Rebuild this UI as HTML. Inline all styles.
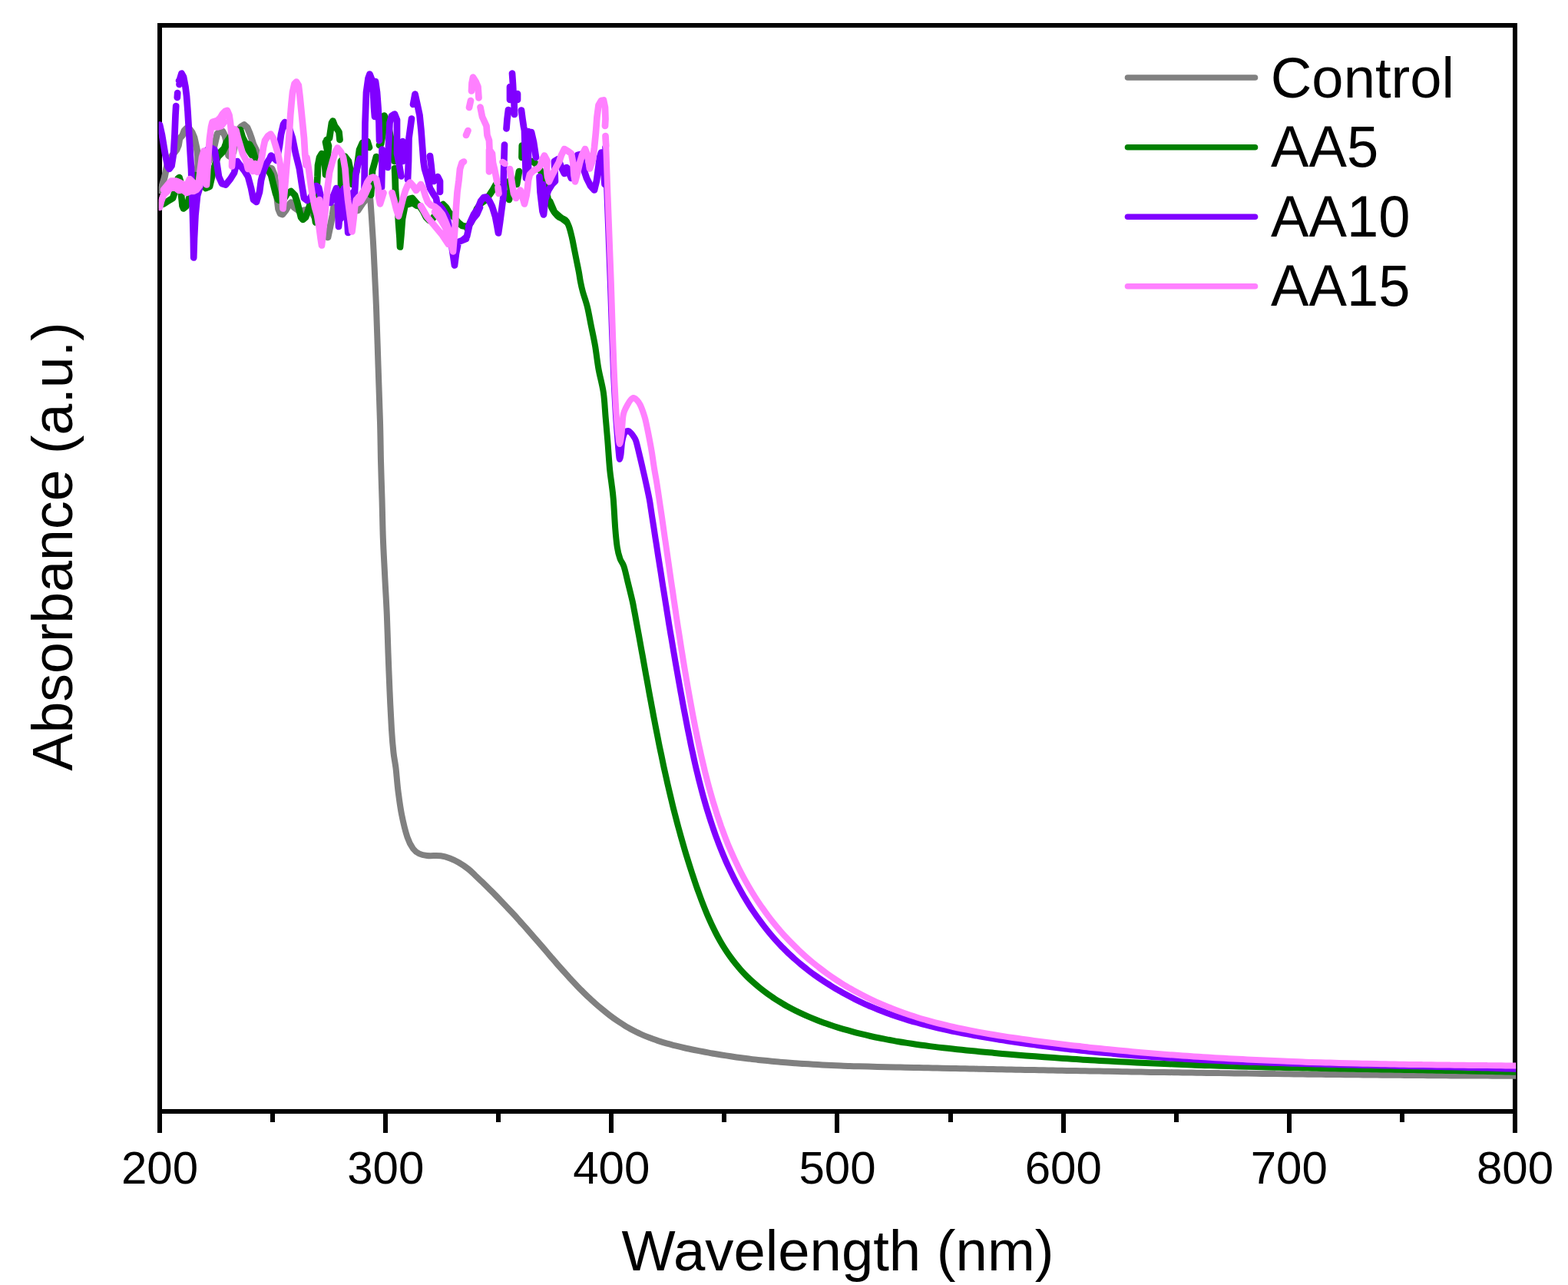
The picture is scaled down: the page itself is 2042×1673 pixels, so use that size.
<!DOCTYPE html>
<html lang="en">
<head>
<meta charset="utf-8">
<title>UV-vis absorbance spectra</title>
<style>
html,body{margin:0;padding:0;background:#fff;}
body{width:2042px;height:1673px;overflow:hidden;position:relative;}
svg{display:block;position:absolute;left:0;top:0;}
text{font-family:"Liberation Sans",Arial,Helvetica,sans-serif;fill:#000;}
.tick{font-size:60px;text-anchor:middle;}
.lab{font-size:74px;}
.leg{font-size:74.2px;}
.curve{fill:none;stroke-width:8.0;stroke-linejoin:round;stroke-linecap:round;}
.ax{stroke:#000;stroke-width:6;fill:none;shape-rendering:crispEdges;}
</style>
</head>
<body>
<svg width="2042" height="1673" viewBox="0 0 2042 1673">
<rect x="0" y="0" width="2042" height="1673" fill="#ffffff"/>
<g class="ax">
<rect x="208" y="33" width="1765" height="1414"/>
<line x1="208" y1="1447" x2="208" y2="1475"/>
<line x1="355" y1="1447" x2="355" y2="1461"/>
<line x1="502" y1="1447" x2="502" y2="1475"/>
<line x1="649" y1="1447" x2="649" y2="1461"/>
<line x1="796" y1="1447" x2="796" y2="1475"/>
<line x1="943" y1="1447" x2="943" y2="1461"/>
<line x1="1090" y1="1447" x2="1090" y2="1475"/>
<line x1="1238" y1="1447" x2="1238" y2="1461"/>
<line x1="1385" y1="1447" x2="1385" y2="1475"/>
<line x1="1532" y1="1447" x2="1532" y2="1461"/>
<line x1="1679" y1="1447" x2="1679" y2="1475"/>
<line x1="1826" y1="1447" x2="1826" y2="1461"/>
<line x1="1973" y1="1447" x2="1973" y2="1475"/>
</g>
<clipPath id="plotclip"><rect x="206.6" y="36" width="1767.6" height="1408"/></clipPath>
<g clip-path="url(#plotclip)">
<path class="curve" stroke="#808080" style="stroke-width:8.7" d="M208,248 210.5,244 212.5,237 214.5,230 216.5,220 218.5,212 220.5,208 226,200 230,195 232.5,189 234,180 237.5,176.5 240,170 243,167 247,168 250,172 253,179 255,188 256.5,195 257.5,203 257.8,213 257,222 257.5,228 259,227 265,220 272,210 278,195 281,182 283,174 286,171.5 290,171 293,177 295,185 296.5,195 297.5,202.5 300,204 304,198 307,180 309.5,170 314,165 318,162.5 322,166 325,173 327.5,180 330,188 333,194 335,200 337,206 340,213 348,218 354,219.5 357.5,228 359.5,240 360.8,258 362.5,272 365,278 368,279 372,274 376,267 379,263.5 383,270 390,275 400,273 404,273M404,273 414,290 422,305 427,309 430,295 433,280 434.5,270 439,270 449,275 459,275 466,274 472,265 478,258 481.5,254.5"/>
<path class="curve" stroke="#808080" d="M481.5,254C481.7,255.3 481.9,254.3 482.5,262C483.1,269.7 484.3,289.5 485,300C485.7,310.5 485.9,313.8 486.5,325C487.1,336.2 487.9,354.5 488.5,367C489.1,379.5 489.3,382 490,400C490.7,418 491.7,450 492.5,475C493.3,500 494.4,529.2 495,550C495.6,570.8 495.6,583.3 496,600C496.4,616.7 497,633.3 497.5,650C498,666.7 498.2,683.3 498.8,700C499.4,716.7 500.4,733.3 501.2,750C502,766.7 503.1,783.3 503.8,800C504.5,816.7 504.9,833.3 505.5,850C506.1,866.7 506.8,883.3 507.5,900C508.2,916.7 509.2,936.7 510,950C510.8,963.3 511.6,971.7 512.5,980C513.4,988.3 514.5,991.7 515.5,1000C516.5,1008.3 517.2,1020 518.5,1030C519.8,1040 521,1050 523,1060C525,1070 528,1082.5 530.5,1090C533,1097.5 535.4,1101.4 538,1105C540.6,1108.6 543,1110 546,1111.5C549,1113 551.3,1113.5 556,1114C560.7,1114.5 569,1113.7 574,1114.3C579,1114.9 582.1,1116 586,1117.5C589.9,1119 593.5,1120.7 597.5,1123C601.5,1125.3 606.4,1128.7 610,1131.5C613.6,1134.3 616,1137 619,1139.8C622,1142.6 624.9,1145.4 627.8,1148.2C630.7,1151 633.5,1153.8 636.4,1156.6C639.2,1159.4 642.1,1162.2 644.9,1165.1C647.7,1167.9 650.4,1170.8 653.2,1173.7C656,1176.6 658.8,1179.5 661.5,1182.4C664.2,1185.3 666.9,1188.2 669.6,1191.1C672.3,1194 674.9,1197 677.6,1200C680.3,1203 683,1205.9 685.6,1208.9C688.2,1211.9 690.8,1214.8 693.4,1217.8C696,1220.8 698.7,1223.8 701.3,1226.8C703.9,1229.8 706.5,1232.9 709.1,1235.9C711.7,1239 714.3,1242 716.9,1245.1C719.5,1248.1 722.1,1251.2 724.8,1254.2C727.4,1257.2 730.1,1260.2 732.8,1263.2C735.5,1266.2 738.1,1269.2 740.8,1272.2C743.5,1275.2 746.3,1278.1 749.1,1281C751.9,1283.9 754.6,1286.8 757.5,1289.7C760.4,1292.6 763.2,1295.4 766.2,1298.2C769.2,1301 772.2,1303.7 775.2,1306.4C778.2,1309.1 781.3,1311.7 784.4,1314.2C787.5,1316.8 790.6,1319.3 793.8,1321.7C797,1324.1 800.3,1326.5 803.6,1328.8C806.9,1331.1 810.3,1333.2 813.7,1335.3C817.1,1337.4 820.6,1339.3 824.1,1341.2C827.6,1343.1 831.2,1344.8 834.8,1346.5C838.4,1348.2 842.2,1349.7 845.9,1351.1C849.6,1352.5 853.4,1353.8 857.2,1355.1C861,1356.3 864.9,1357.5 868.8,1358.6C872.7,1359.7 876.6,1360.7 880.5,1361.7C884.4,1362.7 888.3,1363.6 892.3,1364.5C896.2,1365.4 900.2,1366.2 904.2,1367C908.2,1367.8 912,1368.5 916,1369.3C920,1370 923.9,1370.8 927.9,1371.5C931.9,1372.2 935.8,1372.9 939.8,1373.5C943.8,1374.1 947.6,1374.7 951.6,1375.3C955.6,1375.9 959.5,1376.5 963.5,1377C967.5,1377.5 971.4,1378 975.4,1378.5C979.4,1379 983.3,1379.5 987.3,1379.9C991.3,1380.3 995.2,1380.7 999.2,1381.1C1003.2,1381.5 1007.1,1381.9 1011.1,1382.3C1015.1,1382.7 1019.1,1383 1023.1,1383.3C1027.1,1383.6 1031,1383.9 1035,1384.2C1039,1384.5 1042.9,1384.8 1046.9,1385C1050.9,1385.2 1054.9,1385.5 1058.9,1385.7C1062.9,1385.9 1066.8,1386.2 1070.8,1386.4C1074.8,1386.6 1078.8,1386.7 1082.8,1386.9C1086.8,1387.1 1090.7,1387.2 1094.7,1387.4C1098.7,1387.6 1102.7,1387.8 1106.7,1387.9C1110.7,1388.1 1114.7,1388.2 1118.7,1388.3C1122.7,1388.4 1126.7,1388.5 1130.7,1388.6C1134.7,1388.7 1138.6,1388.8 1142.6,1388.9C1146.6,1389 1150.6,1389.1 1154.6,1389.2C1158.6,1389.3 1162.6,1389.4 1166.6,1389.5C1170.6,1389.6 1174.6,1389.6 1178.6,1389.7C1182.6,1389.8 1186.6,1389.9 1190.6,1390C1194.6,1390.1 1198.6,1390.1 1202.6,1390.2C1206.6,1390.3 1210.7,1390.4 1214.7,1390.5C1218.7,1390.6 1222.7,1390.6 1226.7,1390.7C1230.7,1390.8 1234.7,1390.9 1238.7,1391C1242.7,1391.1 1246.7,1391.1 1250.7,1391.2C1254.7,1391.3 1258.8,1391.4 1262.8,1391.5C1266.8,1391.6 1270.8,1391.6 1274.8,1391.7C1278.8,1391.8 1282.8,1391.8 1286.8,1391.9C1290.8,1392 1294.9,1392.1 1298.9,1392.2C1302.9,1392.3 1306.9,1392.3 1310.9,1392.4C1314.9,1392.5 1319,1392.6 1323,1392.7C1327,1392.8 1331,1392.8 1335,1392.9C1339,1393 1343.1,1393 1347.1,1393.1C1351.1,1393.2 1355.1,1393.2 1359.1,1393.3C1363.1,1393.4 1367.2,1393.5 1371.2,1393.6C1375.2,1393.7 1379.2,1393.7 1383.2,1393.8C1387.2,1393.9 1391.3,1393.9 1395.3,1394C1399.3,1394.1 1403.4,1394.1 1407.4,1394.2C1411.4,1394.3 1415.4,1394.3 1419.4,1394.4C1423.4,1394.5 1427.5,1394.5 1431.5,1394.6C1435.5,1394.7 1439.6,1394.7 1443.6,1394.8C1447.6,1394.9 1451.6,1395 1455.6,1395.1C1459.6,1395.2 1463.7,1395.2 1467.7,1395.3C1471.7,1395.4 1475.8,1395.4 1479.8,1395.5C1483.8,1395.6 1487.8,1395.6 1491.8,1395.7C1495.8,1395.8 1499.9,1395.9 1503.9,1395.9C1507.9,1396 1512,1396 1516,1396C1520,1396 1524.1,1396.1 1528.1,1396.2C1532.1,1396.3 1536.1,1396.3 1540.1,1396.4C1544.1,1396.5 1548.2,1396.5 1552.2,1396.6C1556.2,1396.7 1560.3,1396.7 1564.3,1396.8C1568.3,1396.9 1572.3,1397 1576.3,1397C1580.3,1397 1584.4,1397 1588.4,1397.1C1592.4,1397.1 1596.5,1397.2 1600.5,1397.3C1604.5,1397.4 1608.5,1397.5 1612.5,1397.5C1616.5,1397.5 1620.6,1397.5 1624.6,1397.6C1628.6,1397.6 1632.7,1397.7 1636.7,1397.8C1640.7,1397.9 1644.7,1398 1648.7,1398C1652.7,1398 1656.8,1398 1660.8,1398.1C1664.8,1398.1 1668.8,1398.2 1672.8,1398.3C1676.8,1398.3 1680.9,1398.4 1684.9,1398.4C1688.9,1398.5 1692.9,1398.5 1696.9,1398.6C1700.9,1398.6 1705,1398.7 1709,1398.7C1713,1398.7 1717,1398.8 1721,1398.8C1725,1398.8 1729.1,1399 1733.1,1399C1737.1,1399 1741.1,1399.1 1745.1,1399.1C1749.1,1399.1 1753.1,1399.2 1757.1,1399.2C1761.1,1399.2 1765.2,1399.2 1769.2,1399.3C1773.2,1399.3 1777.2,1399.5 1781.2,1399.5C1785.2,1399.5 1789.2,1399.6 1793.2,1399.6C1797.2,1399.6 1801.3,1399.7 1805.3,1399.7C1809.3,1399.7 1813.3,1399.8 1817.3,1399.8C1821.3,1399.8 1825.3,1399.9 1829.3,1399.9C1833.3,1399.9 1837.3,1400 1841.3,1400C1845.3,1400 1849.3,1400.1 1853.3,1400.1C1857.3,1400.1 1861.3,1400.2 1865.3,1400.2C1869.3,1400.2 1873.3,1400.3 1877.3,1400.3C1881.3,1400.3 1885.3,1400.4 1889.3,1400.4C1893.3,1400.4 1897.2,1400.4 1901.2,1400.4C1905.2,1400.4 1909.2,1400.5 1913.2,1400.5C1917.2,1400.5 1921.2,1400.6 1925.2,1400.6C1929.2,1400.6 1933.1,1400.6 1937.1,1400.6C1941.1,1400.6 1945.1,1400.7 1949.1,1400.7C1953.1,1400.7 1957.1,1400.7 1961.1,1400.7C1965.1,1400.7 1969.8,1400.8 1973,1400.8C1976.2,1400.8 1978.8,1400.8 1980,1400.8"/>
<path class="curve" stroke="#008000" style="stroke-width:8.7" d="M208,267 214,265 220,261 225,258 228,249 230,238 232,232 233.5,231 235,236 236.2,255 237.5,268 239,271.5 242,269 245,263 248,250 252,235 254.5,228 260,236 268,245 273,243 276,230 279,218 283,206 287,198 292,193 294.5,186 300,178 306,172 313,169 316,179 320,187 325,188 329,195 332,205 335,213 340,218 345,220 349,221 353,228 356,240 359,252 362,260 368,262 374,252 379,249 384,254 387,263 390,275 392,283 394.5,286 398,283 401,275 404,265M312,175 316,186 322,193 328,202M285,203 290,198 294,190M404,265 407,265 409,275 411,289.5 413,270 412.5,245 413.5,230 414,215 416,205 419,200 421.5,205 423.5,220 424,227.5 425,215 427,200 428,190 425.5,182 429,180 430.5,170 432,160 433.5,157.5 436,164 439,168 441.5,172 442.5,182M444,280 444,250 444,210 449,203.5 454,210 457,225 458.5,240M464,225 466,210 468,195 472,186 478.5,184 481,192M483,254 484,240 485,222 487,215 490,204M494,189 496,188 498.5,175 499.5,160 500.5,150.5 503,156 505,160 509,180 511.5,190 513,205 513.5,210M514,219 514.5,230 515,247.2 516,260 518,270 519,290 520.5,310 521,321.5 522.5,305 524,285 527,270 530,262 533,259 537,258 543,265 547,269 551,275 555,283 559,287 563,285 567,280 574,268 577,266 581,270 585,277 589,280 597,290 602,294 608,295M531,266 537,264 543,268M424,185 426,195 427,205 426,220 424.5,227M608,297 613,290 618,280 621,272 626,265 633,260 638,253 642,247 646,240 651,240 655,247 660,256 663,260 665,250 664,235 668,240 673,240 676,223M679.5,205 679.8,189.5M693,210 697.5,213 702,218 705.5,225.5 709,240 713,256M716,262 722,276 730,283 738,289"/>
<path class="curve" stroke="#008000" d="M713,256C713.8,258.3 716.3,266.3 718,270C719.7,273.7 721.3,275.8 723,278C724.7,280.2 725.8,281.7 728,283C730.2,284.3 733.8,284 736,286C738.2,288 739.5,291 741,295C742.5,299 743.8,305 745,310C746.2,315 747,320 748,325C749,330 750,335 751,340C752,345 753.2,350.5 754,355C754.8,359.5 755.2,362.8 756,367C756.8,371.2 757.5,374.5 759,380C760.5,385.5 763.2,392.5 765,400C766.8,407.5 768.3,416.7 770,425C771.7,433.3 773.4,440.8 775,450C776.6,459.2 777.6,469.8 779.4,480C781.2,490.2 784.4,500.9 785.9,511.3C787.4,521.8 787.7,532.2 788.6,542.7C789.5,553.2 790.4,562.6 791.3,574C792.2,585.4 793.2,601.7 794.1,611C795,620.3 795.7,623.5 796.5,630C797.3,636.5 798,640.4 798.8,650C799.6,659.6 800.4,677.1 801.2,687.5C802,697.9 802.8,705.8 803.8,712.5C804.8,719.2 806,723.3 807.5,727.5C809,731.7 810.8,732.5 812.5,737.5C814.2,742.5 815.6,749.9 817.5,757.5C819.4,765.1 822.3,776.8 823.7,783C825.1,789.2 825.2,790.9 826,794.9C826.8,798.9 827.5,802.8 828.2,806.8C828.9,810.8 829.7,814.7 830.4,818.7C831.1,822.7 831.9,826.7 832.6,830.6C833.3,834.5 834,838.5 834.7,842.4C835.4,846.3 836.2,850.3 836.9,854.3C837.6,858.2 838.3,862.2 839,866.1C839.7,870 840.4,874 841.1,877.9C841.8,881.8 842.6,885.9 843.3,889.8C844,893.7 844.7,897.6 845.4,901.5C846.1,905.4 846.9,909.4 847.6,913.3C848.3,917.2 849.1,921.2 849.8,925.1C850.5,929 851.2,932.9 852,936.8C852.8,940.7 853.5,944.7 854.3,948.6C855.1,952.5 855.8,956.4 856.6,960.3C857.4,964.2 858.1,968.1 858.9,972C859.7,975.9 860.6,979.8 861.4,983.7C862.2,987.6 863,991.5 863.8,995.4C864.6,999.3 865.5,1003.2 866.4,1007.1C867.3,1011 868.1,1014.9 869,1018.8C869.9,1022.7 870.8,1026.5 871.7,1030.4C872.6,1034.3 873.6,1038.2 874.5,1042.1C875.4,1046 876.3,1049.8 877.3,1053.7C878.3,1057.6 879.3,1061.4 880.3,1065.3C881.3,1069.2 882.3,1073.1 883.4,1077C884.5,1080.9 885.5,1084.7 886.6,1088.6C887.7,1092.5 888.8,1096.3 889.9,1100.2C891,1104.1 892.1,1107.9 893.3,1111.7C894.5,1115.5 895.7,1119.4 896.9,1123.3C898.1,1127.2 899.4,1131.1 900.6,1134.9C901.9,1138.8 903.1,1142.6 904.4,1146.4C905.7,1150.2 907,1154.2 908.4,1158C909.8,1161.8 911.2,1165.7 912.6,1169.5C914,1173.3 915.5,1177.1 917,1180.9C918.5,1184.7 920,1188.5 921.6,1192.2C923.2,1195.9 924.9,1199.6 926.6,1203.2C928.3,1206.8 930.1,1210.5 931.9,1214.1C933.7,1217.7 935.6,1221.2 937.6,1224.7C939.6,1228.2 941.6,1231.6 943.7,1234.9C945.8,1238.2 948,1241.5 950.3,1244.7C952.6,1247.9 954.9,1251 957.4,1254.1C959.9,1257.2 962.4,1260.2 965,1263.1C967.6,1266 970.3,1268.8 973.1,1271.6C975.9,1274.3 978.8,1277 981.7,1279.6C984.6,1282.2 987.6,1284.8 990.7,1287.2C993.8,1289.7 996.9,1292 1000.1,1294.3C1003.3,1296.6 1006.6,1298.8 1009.9,1301C1013.2,1303.2 1016.7,1305.2 1020.1,1307.2C1023.5,1309.2 1027,1311.1 1030.5,1313C1034,1314.9 1037.7,1316.7 1041.3,1318.4C1044.9,1320.1 1048.6,1321.8 1052.3,1323.4C1056,1325 1059.7,1326.5 1063.5,1328C1067.3,1329.5 1071.2,1330.9 1075,1332.3C1078.8,1333.7 1082.6,1335 1086.5,1336.2C1090.4,1337.5 1094.3,1338.7 1098.2,1339.8C1102.1,1340.9 1106.1,1342 1110,1343.1C1113.9,1344.2 1117.8,1345.2 1121.8,1346.2C1125.8,1347.2 1129.7,1348.1 1133.7,1349C1137.7,1349.9 1141.6,1350.7 1145.6,1351.5C1149.5,1352.3 1153.5,1353 1157.4,1353.8C1161.4,1354.5 1165.3,1355.3 1169.3,1356C1173.3,1356.7 1177.2,1357.3 1181.2,1357.9C1185.2,1358.5 1189,1359.1 1193,1359.7C1197,1360.3 1200.9,1360.8 1204.9,1361.3C1208.9,1361.8 1212.8,1362.4 1216.8,1362.9C1220.8,1363.4 1224.7,1363.8 1228.7,1364.3C1232.7,1364.8 1236.6,1365.2 1240.6,1365.6C1244.6,1366 1248.5,1366.4 1252.5,1366.8C1256.5,1367.2 1260.4,1367.6 1264.4,1368C1268.4,1368.4 1272.3,1368.8 1276.3,1369.2C1280.3,1369.6 1284.2,1369.9 1288.2,1370.3C1292.2,1370.7 1296.2,1371.1 1300.2,1371.4C1304.2,1371.8 1308.1,1372.1 1312.1,1372.4C1316.1,1372.7 1320.1,1373.1 1324.1,1373.4C1328.1,1373.7 1332,1374.1 1336,1374.4C1340,1374.7 1344,1375 1348,1375.3C1352,1375.6 1355.9,1375.9 1359.9,1376.2C1363.9,1376.5 1367.9,1376.8 1371.9,1377.1C1375.9,1377.4 1379.9,1377.6 1383.9,1377.9C1387.9,1378.2 1391.9,1378.4 1395.9,1378.7C1399.9,1379 1403.9,1379.2 1407.9,1379.5C1411.9,1379.8 1415.9,1380 1419.9,1380.2C1423.9,1380.4 1427.9,1380.7 1431.9,1380.9C1435.9,1381.1 1439.9,1381.4 1443.9,1381.6C1447.9,1381.8 1451.9,1382 1455.9,1382.2C1459.9,1382.4 1463.9,1382.6 1467.9,1382.8C1471.9,1383 1475.9,1383.2 1479.9,1383.4C1483.9,1383.6 1487.9,1383.8 1491.9,1384C1495.9,1384.2 1499.9,1384.3 1503.9,1384.5C1507.9,1384.7 1512,1384.8 1516,1385C1520,1385.2 1524,1385.3 1528,1385.5C1532,1385.7 1536,1385.8 1540,1386C1544,1386.2 1548.1,1386.2 1552.1,1386.4C1556.1,1386.6 1560.1,1386.8 1564.1,1386.9C1568.1,1387.1 1572.1,1387.2 1576.1,1387.3C1580.1,1387.4 1584.2,1387.6 1588.2,1387.7C1592.2,1387.8 1596.2,1387.9 1600.2,1388C1604.2,1388.1 1608.3,1388.3 1612.3,1388.4C1616.3,1388.5 1620.3,1388.6 1624.3,1388.7C1628.3,1388.8 1632.3,1388.9 1636.3,1389C1640.3,1389.1 1644.4,1389.3 1648.4,1389.4C1652.4,1389.5 1656.4,1389.6 1660.4,1389.7C1664.4,1389.8 1668.5,1389.8 1672.5,1389.9C1676.5,1390 1680.5,1390.1 1684.5,1390.2C1688.5,1390.3 1692.6,1390.4 1696.6,1390.5C1700.6,1390.6 1704.6,1390.6 1708.6,1390.7C1712.6,1390.8 1716.7,1390.9 1720.7,1391C1724.7,1391.1 1728.7,1391.1 1732.7,1391.2C1736.7,1391.3 1740.8,1391.3 1744.8,1391.4C1748.8,1391.5 1752.8,1391.6 1756.8,1391.7C1760.8,1391.8 1764.8,1391.8 1768.8,1391.9C1772.8,1392 1776.9,1392 1780.9,1392.1C1784.9,1392.2 1788.9,1392.2 1792.9,1392.3C1796.9,1392.4 1800.9,1392.4 1804.9,1392.5C1808.9,1392.6 1813,1392.6 1817,1392.7C1821,1392.8 1825,1392.8 1829,1392.9C1833,1393 1837,1393 1841,1393.1C1845,1393.2 1849,1393.2 1853,1393.3C1857,1393.4 1861.1,1393.5 1865.1,1393.6C1869.1,1393.7 1873.1,1393.7 1877.1,1393.8C1881.1,1393.9 1885.1,1393.9 1889.1,1394C1893.1,1394.1 1897.1,1394.1 1901.1,1394.2C1905.1,1394.3 1909.1,1394.3 1913.1,1394.4C1917.1,1394.5 1921.1,1394.6 1925.1,1394.7C1929.1,1394.8 1933.1,1394.8 1937.1,1394.9C1941.1,1395 1945,1395.1 1949,1395.2C1953,1395.3 1957,1395.3 1961,1395.4C1965,1395.5 1969.8,1395.7 1973,1395.7C1976.2,1395.8 1978.8,1395.7 1980,1395.7"/>
<path class="curve" stroke="#8000ff" style="stroke-width:8.7" d="M208,162.5 211,176 215,200 218.5,217 220.5,220 223.5,216 226,200 227.5,175 228.5,150 229.2,138M230.8,127 231.2,121M233.5,110 234.5,102 236.5,95.5 239,100 241.5,113 243,125 244.5,145 246,170 247.5,195 249,220 250,250 251,280 251.8,310 252.2,335.5 253,310 254.5,280 255.5,270 257,255 260,245 262.5,235 267,220 270,195 274,192 279.5,195 282,210 285,230 289,239 294,240.5 300,233 305,225 308,213 309,210 311,213 318,222 323,230 327,245 330,260 334,263 338,250 340,235 343,223 347,213 351,207 353,202.5 357,206 360,209 362,200 364,190 366,175 369,162 371,159 376,165 381,180 385,200 390,220 393,240 396,258 400,261M233,105 240,105M400,261 404,258 408,250 412,242 415,244 417.5,255 424,260 430.5,264 434,255 438,245 439.5,260 440.5,280 441,295 442.5,280 444,260 446,250 448,245 449.5,260 451,275 452.5,290 453.2,303 454.5,285 457,265 460,250M462,250 463.5,226 466.5,212 468.5,206.5M474.5,245 474.8,220 475,200 475.5,160 477,120 479.5,102 481.5,96.5 484,103 486,120 487,140 488,152M489,106 491,120 492.5,140 493.5,160 494,183M497.5,194.5 497.5,220 497,244M505,218 505.5,200 506.5,180 507.5,160 510,151 514,148.5 517,156 517,180 517,200 520,215 522.5,229.5M524.5,184 524.5,210M531,234 532,210 532.5,180 536,154.5M538,136 540.5,122.5 543.5,136 546.5,150 548.5,170 550,190 551.5,210 553,220 556,230 560,245 564,252 568,258 569,264 576,272 582,282 586,300 589,325 592,345.5 594,330 597,315 602,313 607,311M560,203 561.5,215 563,230 565,236 570,230 573,236 573,250M443,250 443.5,285M602,313 608,308 612,290 617,279 622,272 626,262 630,257 633,256.5 637,261 641,269 645,282 647.5,295 649,303.5 651,290 653,275 655,260 656,250 655.8,233.5M657,188.5 656.5,205 655.8,233.5M667,95.5 668,110 668.5,120 669.5,132 670,149M664,113 664,130M674,122 674,130M662,143 660.5,155 659.5,167.5M679,143.5 680.5,155 682,165 683,170 684,205 685,232M688,171 688,220M692,172 695,185 698,205M702.5,230 703.5,250 706.5,275 708,279.5 710,260 714,248 719,240 723,236 722,210 727,207 732,220 735,226 738,218 741,225 744,232 748,210 752,202 756,201 760,220 764,232 769,242 774,247.5 777,235 779,220 781,205 783,198.5 785,210 786.5,225 787.5,240M707,240 707.5,260M610,295 616,285 621,279 625,270"/>
<path class="curve" stroke="#8000ff" d="M788.2,192C788.3,193.3 788.3,192 788.6,200C788.9,208 789.5,226.7 790,240C790.5,253.3 791,266.7 791.5,280C792,293.3 792.5,305.5 793,320C793.5,334.5 794.2,350.3 794.8,367C795.4,383.7 795.9,401.2 796.6,420C797.3,438.8 798.2,464.8 798.8,480C799.4,495.2 799.8,500.5 800.3,511C800.8,521.5 801.4,532.3 802.1,543C802.8,553.7 803.9,566.8 804.5,575C805.1,583.2 805.6,588.2 806,592C806.4,595.8 806.6,598 807,598C807.4,598 808,595.8 808.5,592C809,588.2 809.5,579.3 810.2,575C810.9,570.7 811.7,568.2 812.5,566C813.3,563.8 814.1,562.8 815,562C815.9,561.2 816.9,560.8 818,561C819.1,561.2 820.3,562.3 821.5,563.5C822.7,564.7 823.9,566.2 825,568C826.1,569.8 827,570.4 828.2,574C829.4,577.6 830.7,583.5 832.2,589.7C833.7,595.9 835.7,604.3 837.2,611C838.8,617.7 840.1,623.5 841.5,630C842.9,636.5 844.7,644.7 845.7,650C846.7,655.3 847,658 847.6,662C848.2,666 848.8,670 849.4,674C850,678 850.7,682 851.3,686C851.9,690 852.5,693.9 853.1,697.9C853.7,701.9 854.4,705.8 855,709.8C855.6,713.8 856.2,717.7 856.8,721.7C857.4,725.7 858.1,729.6 858.7,733.6C859.3,737.6 860,741.5 860.6,745.5C861.2,749.5 861.8,753.4 862.4,757.4C863,761.4 863.7,765.3 864.3,769.2C864.9,773.1 865.6,777 866.2,781C866.8,785 867.5,788.9 868.1,792.9C868.7,796.9 869.4,800.8 870,804.7C870.6,808.6 871.2,812.6 871.9,816.5C872.5,820.4 873.2,824.3 873.9,828.3C874.6,832.2 875.2,836.2 875.9,840.2C876.6,844.2 877.2,848.1 877.9,852C878.6,855.9 879.2,859.9 879.9,863.8C880.6,867.7 881.3,871.6 882,875.6C882.7,879.6 883.4,883.5 884.1,887.5C884.8,891.5 885.5,895.3 886.2,899.3C886.9,903.2 887.7,907.2 888.4,911.2C889.1,915.2 889.9,919.1 890.6,923.1C891.4,927.1 892.1,931 892.9,935C893.7,939 894.4,942.9 895.2,946.9C896,950.9 896.8,954.8 897.6,958.8C898.4,962.8 899.2,966.7 900,970.7C900.8,974.7 901.7,978.6 902.6,982.6C903.5,986.6 904.3,990.5 905.2,994.5C906.1,998.5 907,1002.4 908,1006.3C909,1010.2 909.9,1014.2 910.9,1018.1C911.9,1022 913,1026 914,1029.9C915,1033.8 916.1,1037.7 917.2,1041.6C918.3,1045.5 919.4,1049.4 920.6,1053.3C921.8,1057.2 923,1061 924.2,1064.8C925.4,1068.6 926.7,1072.5 928,1076.3C929.3,1080.1 930.6,1084 932,1087.8C933.4,1091.6 934.8,1095.3 936.2,1099.1C937.7,1102.8 939.2,1106.6 940.7,1110.3C942.2,1114 943.8,1117.7 945.4,1121.4C947,1125.1 948.8,1128.8 950.5,1132.4C952.2,1136 954,1139.6 955.8,1143.2C957.6,1146.8 959.5,1150.4 961.4,1153.9C963.3,1157.5 965.3,1161 967.3,1164.5C969.3,1168 971.4,1171.4 973.5,1174.8C975.6,1178.2 977.7,1181.6 979.9,1184.9C982.1,1188.2 984.5,1191.5 986.8,1194.8C989.1,1198 991.5,1201.2 993.9,1204.4C996.3,1207.6 998.8,1210.7 1001.3,1213.8C1003.8,1216.9 1006.5,1219.9 1009.1,1222.9C1011.8,1225.9 1014.5,1228.8 1017.2,1231.6C1020,1234.4 1022.7,1237.2 1025.6,1240C1028.5,1242.8 1031.4,1245.4 1034.4,1248.1C1037.4,1250.8 1040.4,1253.4 1043.4,1255.9C1046.5,1258.4 1049.6,1260.9 1052.7,1263.3C1055.8,1265.7 1059,1268.1 1062.3,1270.4C1065.5,1272.7 1068.9,1275 1072.2,1277.2C1075.5,1279.4 1078.9,1281.5 1082.3,1283.6C1085.7,1285.7 1089.1,1287.8 1092.6,1289.8C1096.1,1291.8 1099.6,1293.7 1103.1,1295.6C1106.6,1297.5 1110.1,1299.3 1113.7,1301.1C1117.3,1302.9 1120.9,1304.6 1124.6,1306.3C1128.2,1308 1131.9,1309.6 1135.6,1311.2C1139.3,1312.8 1143,1314.2 1146.8,1315.7C1150.5,1317.2 1154.3,1318.6 1158.1,1320C1161.9,1321.4 1165.7,1322.6 1169.5,1323.9C1173.3,1325.2 1177.2,1326.4 1181,1327.6C1184.8,1328.8 1188.7,1329.9 1192.6,1331C1196.5,1332.1 1200.4,1333.2 1204.3,1334.2C1208.2,1335.2 1212.1,1336.1 1216,1337.1C1219.9,1338 1224,1339 1227.9,1339.9C1231.9,1340.8 1235.8,1341.7 1239.7,1342.5C1243.7,1343.3 1247.6,1344.1 1251.6,1344.9C1255.6,1345.7 1259.6,1346.4 1263.6,1347.1C1267.6,1347.8 1271.5,1348.6 1275.5,1349.3C1279.5,1350 1283.5,1350.6 1287.5,1351.3C1291.5,1352 1295.4,1352.6 1299.4,1353.3C1303.4,1354 1307.4,1354.6 1311.4,1355.2C1315.4,1355.8 1319.4,1356.4 1323.4,1357C1327.4,1357.6 1331.4,1358.2 1335.4,1358.8C1339.4,1359.4 1343.3,1359.9 1347.3,1360.4C1351.3,1360.9 1355.3,1361.5 1359.3,1362C1363.3,1362.5 1367.3,1363.1 1371.3,1363.6C1375.3,1364.1 1379.3,1364.5 1383.3,1365C1387.3,1365.5 1391.3,1366 1395.3,1366.4C1399.3,1366.9 1403.3,1367.3 1407.3,1367.7C1411.3,1368.1 1415.2,1368.6 1419.2,1369C1423.2,1369.4 1427.2,1369.8 1431.2,1370.2C1435.2,1370.6 1439.2,1370.9 1443.2,1371.3C1447.2,1371.7 1451.2,1372.1 1455.2,1372.4C1459.2,1372.8 1463.2,1373.1 1467.2,1373.4C1471.2,1373.7 1475.2,1374.1 1479.2,1374.4C1483.2,1374.7 1487.2,1375 1491.2,1375.3C1495.2,1375.6 1499.2,1375.9 1503.2,1376.2C1507.2,1376.5 1511.2,1376.7 1515.2,1377C1519.2,1377.3 1523.2,1377.5 1527.2,1377.8C1531.2,1378.1 1535.3,1378.3 1539.3,1378.6C1543.3,1378.8 1547.3,1379.1 1551.3,1379.3C1555.3,1379.5 1559.3,1379.7 1563.3,1379.9C1567.3,1380.1 1571.3,1380.3 1575.3,1380.5C1579.3,1380.7 1583.3,1380.9 1587.3,1381.1C1591.3,1381.3 1595.3,1381.5 1599.3,1381.7C1603.3,1381.9 1607.4,1382 1611.4,1382.2C1615.4,1382.4 1619.4,1382.6 1623.4,1382.7C1627.4,1382.8 1631.4,1383 1635.4,1383.1C1639.4,1383.2 1643.4,1383.4 1647.4,1383.5C1651.4,1383.6 1655.5,1383.8 1659.5,1383.9C1663.5,1384 1667.5,1384.2 1671.5,1384.3C1675.5,1384.4 1679.5,1384.6 1683.5,1384.7C1687.5,1384.8 1691.6,1384.9 1695.6,1385C1699.6,1385.1 1703.6,1385.2 1707.6,1385.3C1711.6,1385.4 1715.7,1385.5 1719.7,1385.6C1723.7,1385.7 1727.7,1385.8 1731.7,1385.9C1735.7,1386 1739.8,1386.1 1743.8,1386.2C1747.8,1386.3 1751.8,1386.4 1755.8,1386.5C1759.8,1386.6 1763.9,1386.6 1767.9,1386.7C1771.9,1386.8 1775.9,1386.9 1779.9,1387C1783.9,1387.1 1788,1387.1 1792,1387.2C1796,1387.3 1800,1387.4 1804,1387.5C1808,1387.6 1812.1,1387.6 1816.1,1387.7C1820.1,1387.8 1824.1,1387.9 1828.1,1388C1832.1,1388.1 1836.2,1388.1 1840.2,1388.2C1844.2,1388.3 1848.3,1388.4 1852.3,1388.5C1856.3,1388.6 1860.3,1388.7 1864.3,1388.8C1868.3,1388.9 1872.4,1388.9 1876.4,1389C1880.4,1389.1 1884.5,1389.2 1888.5,1389.3C1892.5,1389.4 1896.5,1389.5 1900.5,1389.6C1904.5,1389.7 1908.6,1389.8 1912.6,1389.9C1916.6,1390 1920.7,1390.2 1924.7,1390.3C1928.7,1390.4 1932.8,1390.5 1936.8,1390.6C1940.8,1390.7 1944.8,1390.9 1948.8,1391C1952.8,1391.1 1956.9,1391.3 1960.9,1391.4C1964.9,1391.5 1969.8,1391.7 1973,1391.8C1976.2,1391.9 1978.8,1391.8 1980,1391.8"/>
<path class="curve" stroke="#ff80ff" style="stroke-width:8.7" d="M208,270 210,262 213,254 218,248 223,244 229,245 233,248 238,247 243,251 248,249 252,249 256,247 260,242 263,230 264,220M213,247 218,241 223,235.5 229,235.5 234,237.5 240,241 244,240 247,233 252,238 256,239 259,236 261,220 263,205 265.5,196.5 267,210 268.5,230 269,240.5 270,225 271.5,200 273,180 275,165 276.5,159 283,157 287,153 290,148 293,145 296,144 298.5,150 300,160 302,180 302.5,200 302,216.5 304,190 305,168 307.5,170 310,180 313,190 316,200 320,208 323,220 326,210 329,223 332,213 335,224 338,215 341,205 343,192 345,183 349,177 352.5,174.5 356,180 359,190 362,200 365,215 367,235 368,260 368.5,271.5 370.5,250 373,220 375.5,190 377,170 378.2,150 379.5,135 381,120 383.5,109 386,106.5 388.8,111 390.5,125 392,140 394,160 396,180 397.2,200 398.5,215M277,165 283,165.5 288,164 292,159M215,252 220,247 225,242 230,241 235,243 240,245 245,244 250,244 255,243M279,161 285,159 290,154 294,149M399.5,205 402,220 404,235 407,255 410,270 413,280 415.5,295 417.5,310 419,319.5 420.5,305 422.5,285 424.5,265 426.5,245 429,225 433,210 437,197 439.5,192.5 444,198 447,205 449.5,220 451,240 453,260 455,275 457,290 458.5,301.5 460.5,285 462,270 464,260 469,255 474,248 478,238 482,232 486,230.5 490,233 492.5,245 493.5,258 495,265.5 498,256 499.5,251M510.5,251 513,260 516,272 519,281.5 522,270 525,258 528,248 531,241 534,237.5 538,242 542,248 545,244 548,240 551,245 554,255 557,263 561,267 566,269 571,273 576,279 580,288 584,298 587,310 589,322 590,327.5 591.5,310 593,290 594,270 595.5,250 597.5,235 599,220 601.5,212 604,210.5M416,260 416.5,275 417.5,295M464,265 470,262 476,252 480,243M566,276 574,286 580,296 585,310M548,268 556,282 566,294 576,306 584,318M607,176 609.5,170M611,140 613,131M614,118.5 614.5,108 616,100.5 619.5,106 622.5,113 623.5,127.5M625.5,139.5 628,152 633.5,164 634.5,176 637,183 637.5,195 641,200 642,212 644,220 646,230 647.5,238M637,195 637,223.5M648.5,244 649.5,252M654.5,211 657.5,213M664,220 665.5,230 667,240 669,252 672,258 675,252 677.5,247.5 680,255 683,265.5 685.5,255 687,245 688,235 690,227 695,222 701,219 704,215 706,208 709,202.5 712.5,209 712,220 713,230 715,236.5 718,230 723,220 728,211 731,202 735,194 740,197 744,200 746.5,213 747.5,228 749,236.5 752,225 755,212 758,202 762,194 765.5,203 768,219.5 772,208 774,192 776,172 777.5,152 779.5,137 783,131 786,130.5 788,140 788.5,155 788,164M788.5,177 789.2,190"/>
<path class="curve" stroke="#ff80ff" d="M788.8,180C788.9,183.3 789.2,190 789.6,200C790,210 790.5,226.7 791,240C791.5,253.3 792,266.7 792.5,280C793,293.3 793.5,305.5 794,320C794.5,334.5 795.2,350.3 795.8,367C796.4,383.7 796.9,401.2 797.5,420C798.1,438.8 799,464.8 799.6,480C800.2,495.2 800.6,500.9 801.1,511.3C801.6,521.8 802.2,533.8 802.9,542.7C803.5,551.7 804.3,559.1 805,565C805.7,570.9 806.2,578 807,578C807.8,578 808.8,570.9 809.5,565C810.2,559.1 810.7,547.7 811.3,542.7C811.9,537.7 812.3,537.5 813.3,534.9C814.3,532.3 815.9,529.3 817.2,527C818.5,524.7 819.7,522.5 821,521C822.3,519.5 823.7,518.1 825,518C826.3,517.9 827.5,519 829,520.5C830.5,522 832,523.3 833.7,527C835.5,530.7 837.9,537.5 839.5,542.7C841.1,547.9 842,553.2 843.1,558.4C844.2,563.6 845.2,568.8 846.2,574C847.2,579.2 848,583.5 849,589.7C850,595.9 851.1,604.3 852.2,611C853.3,617.7 854.5,623.5 855.5,630C856.5,636.5 857.7,644.6 858.5,650C859.3,655.4 859.7,658.1 860.3,662.1C860.9,666.1 861.5,670.1 862.1,674.1C862.7,678.1 863.2,682.1 863.8,686.1C864.4,690.1 864.9,694 865.5,698C866.1,702 866.7,706 867.3,710C867.9,714 868.4,717.9 869,721.9C869.6,725.9 870.1,729.8 870.7,733.7C871.3,737.7 871.8,741.7 872.4,745.6C873,749.5 873.5,753.5 874.1,757.4C874.7,761.3 875.3,765.3 875.9,769.2C876.5,773.1 877,777.1 877.6,781C878.2,784.9 878.8,788.9 879.4,792.8C880,796.7 880.5,800.7 881.1,804.6C881.7,808.5 882.3,812.4 882.9,816.3C883.5,820.2 884.2,824.2 884.8,828.1C885.4,832 886,836 886.6,839.9C887.2,843.8 887.9,847.8 888.5,851.7C889.1,855.6 889.8,859.5 890.4,863.4C891,867.3 891.7,871.3 892.4,875.2C893.1,879.1 893.7,883 894.4,887C895.1,891 895.8,894.9 896.5,898.9C897.2,902.9 897.9,906.8 898.6,910.7C899.3,914.7 900.1,918.6 900.8,922.6C901.5,926.6 902.2,930.5 903,934.5C903.8,938.5 904.5,942.4 905.3,946.4C906.1,950.4 906.9,954.3 907.7,958.3C908.5,962.3 909.4,966.2 910.2,970.2C911.1,974.2 911.9,978.2 912.8,982.2C913.7,986.2 914.7,990.2 915.6,994.1C916.5,998 917.4,1002 918.4,1005.9C919.4,1009.8 920.4,1013.8 921.4,1017.7C922.4,1021.6 923.5,1025.6 924.6,1029.5C925.7,1033.4 926.8,1037.3 927.9,1041.2C929,1045.1 930.3,1048.9 931.5,1052.8C932.7,1056.7 933.9,1060.6 935.2,1064.4C936.5,1068.2 937.8,1072 939.1,1075.8C940.5,1079.6 941.9,1083.3 943.3,1087.1C944.7,1090.9 946.2,1094.7 947.7,1098.4C949.2,1102.1 950.8,1105.7 952.4,1109.4C954,1113.1 955.7,1116.8 957.4,1120.4C959.1,1124 960.8,1127.6 962.6,1131.2C964.4,1134.8 966.2,1138.3 968.1,1141.8C970,1145.3 971.9,1148.8 973.9,1152.2C975.9,1155.7 977.9,1159.1 980,1162.5C982.1,1165.9 984.2,1169.3 986.4,1172.6C988.6,1175.9 990.8,1179.2 993.1,1182.4C995.4,1185.7 997.7,1188.9 1000.1,1192.1C1002.5,1195.3 1004.9,1198.4 1007.4,1201.5C1009.9,1204.6 1012.4,1207.6 1015,1210.6C1017.6,1213.6 1020.2,1216.7 1022.9,1219.6C1025.6,1222.5 1028.4,1225.4 1031.2,1228.2C1034,1231 1036.8,1233.8 1039.7,1236.6C1042.6,1239.3 1045.5,1242 1048.5,1244.7C1051.5,1247.4 1054.5,1250 1057.6,1252.5C1060.7,1255 1063.8,1257.5 1067,1260C1070.2,1262.5 1073.3,1264.9 1076.6,1267.2C1079.8,1269.5 1083.2,1271.9 1086.5,1274.1C1089.8,1276.3 1093.1,1278.5 1096.5,1280.6C1099.9,1282.7 1103.3,1284.8 1106.8,1286.8C1110.3,1288.8 1113.8,1290.7 1117.3,1292.6C1120.8,1294.5 1124.4,1296.4 1128,1298.2C1131.6,1300 1135.2,1301.6 1138.8,1303.3C1142.4,1305 1146.1,1306.6 1149.8,1308.2C1153.5,1309.8 1157.2,1311.2 1160.9,1312.7C1164.6,1314.2 1168.3,1315.6 1172.1,1317C1175.9,1318.4 1179.7,1319.7 1183.5,1321C1187.3,1322.3 1191.1,1323.5 1194.9,1324.7C1198.7,1325.9 1202.6,1327 1206.4,1328.1C1210.2,1329.2 1214.1,1330.3 1218,1331.3C1221.9,1332.3 1225.8,1333.2 1229.7,1334.2C1233.6,1335.2 1237.5,1336.1 1241.4,1337C1245.3,1337.9 1249.2,1338.7 1253.2,1339.5C1257.2,1340.3 1261.1,1341.1 1265.1,1341.9C1269,1342.7 1272.9,1343.4 1276.9,1344.1C1280.9,1344.8 1284.9,1345.5 1288.9,1346.2C1292.9,1346.9 1296.8,1347.6 1300.8,1348.2C1304.8,1348.8 1308.8,1349.5 1312.8,1350.1C1316.8,1350.7 1320.7,1351.2 1324.7,1351.8C1328.7,1352.4 1332.7,1352.9 1336.7,1353.5C1340.7,1354.1 1344.7,1354.7 1348.7,1355.2C1352.7,1355.7 1356.7,1356.2 1360.7,1356.7C1364.7,1357.2 1368.7,1357.8 1372.7,1358.3C1376.7,1358.8 1380.6,1359.2 1384.6,1359.7C1388.6,1360.2 1392.6,1360.7 1396.6,1361.2C1400.6,1361.7 1404.6,1362 1408.6,1362.5C1412.6,1363 1416.6,1363.5 1420.6,1363.9C1424.6,1364.3 1428.6,1364.7 1432.6,1365.1C1436.6,1365.5 1440.5,1365.9 1444.5,1366.3C1448.5,1366.7 1452.5,1367.1 1456.5,1367.5C1460.5,1367.9 1464.5,1368.2 1468.5,1368.6C1472.5,1369 1476.5,1369.3 1480.5,1369.7C1484.5,1370.1 1488.4,1370.4 1492.4,1370.7C1496.4,1371 1500.4,1371.4 1504.4,1371.7C1508.4,1372 1512.4,1372.4 1516.4,1372.7C1520.4,1373 1524.4,1373.3 1528.4,1373.6C1532.4,1373.9 1536.4,1374.1 1540.4,1374.4C1544.4,1374.7 1548.3,1375 1552.3,1375.3C1556.3,1375.6 1560.3,1375.8 1564.3,1376C1568.3,1376.2 1572.3,1376.5 1576.3,1376.8C1580.3,1377 1584.3,1377.3 1588.3,1377.5C1592.3,1377.7 1596.3,1378 1600.3,1378.2C1604.3,1378.4 1608.3,1378.6 1612.3,1378.8C1616.3,1379 1620.2,1379.2 1624.2,1379.4C1628.2,1379.6 1632.2,1379.8 1636.2,1380C1640.2,1380.2 1644.2,1380.4 1648.2,1380.6C1652.2,1380.8 1656.2,1380.9 1660.2,1381.1C1664.2,1381.3 1668.2,1381.4 1672.2,1381.6C1676.2,1381.8 1680.2,1381.9 1684.2,1382C1688.2,1382.1 1692.2,1382.2 1696.2,1382.4C1700.2,1382.6 1704.2,1382.8 1708.2,1382.9C1712.2,1383 1716.2,1383.1 1720.2,1383.2C1724.2,1383.3 1728.2,1383.5 1732.2,1383.6C1736.2,1383.7 1740.2,1383.8 1744.2,1383.9C1748.2,1384 1752.2,1384.1 1756.2,1384.2C1760.2,1384.3 1764.2,1384.4 1768.2,1384.5C1772.2,1384.6 1776.3,1384.7 1780.3,1384.8C1784.3,1384.9 1788.3,1385 1792.3,1385.1C1796.3,1385.2 1800.3,1385.2 1804.3,1385.3C1808.3,1385.4 1812.3,1385.4 1816.3,1385.5C1820.3,1385.6 1824.4,1385.7 1828.4,1385.8C1832.4,1385.9 1836.4,1386 1840.4,1386C1844.4,1386 1848.4,1386 1852.4,1386.1C1856.4,1386.1 1860.5,1386.2 1864.5,1386.3C1868.5,1386.4 1872.5,1386.5 1876.5,1386.5C1880.5,1386.5 1884.6,1386.5 1888.6,1386.6C1892.6,1386.6 1896.6,1386.8 1900.6,1386.8C1904.6,1386.8 1908.7,1386.9 1912.7,1386.9C1916.7,1386.9 1920.7,1387 1924.7,1387C1928.7,1387 1932.8,1387 1936.8,1387.1C1940.8,1387.1 1944.9,1387.2 1948.9,1387.3C1952.9,1387.3 1956.9,1387.4 1960.9,1387.4C1964.9,1387.4 1969.8,1387.5 1973,1387.5C1976.2,1387.5 1978.8,1387.5 1980,1387.5"/>
</g>
<g class="tick">
<text x="208.0" y="1540.7">200</text>
<text x="502.2" y="1540.7">300</text>
<text x="796.3" y="1540.7">400</text>
<text x="1090.5" y="1540.7">500</text>
<text x="1384.7" y="1540.7">600</text>
<text x="1678.8" y="1540.7">700</text>
<text x="1973.0" y="1540.7">800</text>
</g>
<text class="lab" x="809.6" y="1654" style="font-size:74.3px">Wavelength (nm)</text>
<text class="lab" transform="translate(94,419.4) rotate(-90)" text-anchor="end" style="font-size:73.5px">Absorbance (a.u.)</text>
<g>
<line x1="1468.5" y1="101" x2="1634.5" y2="101" stroke="#808080" stroke-width="7.6" stroke-linecap="round"/>
<text class="leg" x="1654.8" y="126.8">Control</text>
<line x1="1468.5" y1="191.8" x2="1634.5" y2="191.8" stroke="#008000" stroke-width="7.6" stroke-linecap="round"/>
<text class="leg" transform="translate(1655,217.0) scale(1,1.035)">AA5</text>
<line x1="1468.5" y1="282.3" x2="1634.5" y2="282.3" stroke="#8000ff" stroke-width="7.6" stroke-linecap="round"/>
<text class="leg" transform="translate(1655,307.6) scale(1,1.035)">AA10</text>
<line x1="1468.5" y1="372.8" x2="1634.5" y2="372.8" stroke="#ff80ff" stroke-width="7.6" stroke-linecap="round"/>
<text class="leg" transform="translate(1655,397.8) scale(1,1.035)">AA15</text>
</g>
</svg>
</body>
</html>
